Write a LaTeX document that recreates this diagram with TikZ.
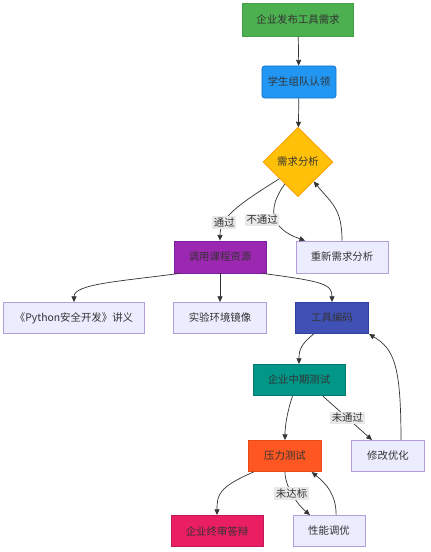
\documentclass[tikz,border=0pt]{standalone}
\usepackage{fontspec}
\setmainfont{Noto Sans CJK SC}
\usetikzlibrary{shapes.geometric,arrows.meta}

\definecolor{txt}{HTML}{333333}
\definecolor{edge}{HTML}{333333}
\definecolor{lblbg}{HTML}{E8E8E8}
\definecolor{lav}{HTML}{ECECFF}
\definecolor{lavline}{HTML}{B39DDB}
\definecolor{gfill}{HTML}{4CAF50} \definecolor{gline}{HTML}{43A047}
\definecolor{bfill}{HTML}{2196F3} \definecolor{bline}{HTML}{1976D2}
\definecolor{yfill}{HTML}{FFC107} \definecolor{yline}{HTML}{FFA000}
\definecolor{pfill}{HTML}{9C27B0} \definecolor{pline}{HTML}{7B1FA2}
\definecolor{ifill}{HTML}{3F51B5} \definecolor{iline}{HTML}{303F9F}
\definecolor{tfill}{HTML}{009688} \definecolor{tline}{HTML}{00796B}
\definecolor{ofill}{HTML}{FF5722} \definecolor{oline}{HTML}{E64A19}
\definecolor{kfill}{HTML}{E91E63} \definecolor{kline}{HTML}{C2185B}

\begin{document}
\begin{tikzpicture}[x=0.025cm, y=-0.025cm, >={Stealth[length=4pt,width=3.6pt,inset=0pt]},
    box/.style={draw, line width=0.6pt, text=txt, inner sep=0pt, minimum height=0.78cm,
        font=\fontsize{7.4}{9}\selectfont},
    plain/.style={box, fill=lav, draw=lavline},
    flow/.style={->, draw=edge, line width=0.5pt},
    lbl/.style={fill=lblbg, inner sep=1.2pt, text=txt, font=\fontsize{7.4}{9}\selectfont}]
        \useasboundingbox (0,0) rectangle (430,552);
        % main line
        \node[box, fill=gfill, draw=gline, minimum width=2.78cm, minimum height=0.83cm] (req) at (298,20) {企业发布工具需求};
        \node[box, fill=bfill, draw=bline, rounded corners=2pt, minimum width=1.85cm, minimum height=0.8cm] (team) at (299,82) {学生组队认领};
        \node[box, diamond, fill=yfill, draw=yline, minimum width=1.75cm, minimum height=1.73cm] (ana) at (298,162) {需求分析};
        \node[box, fill=pfill, draw=pline, minimum width=2.3cm, minimum height=0.8cm] (res) at (220,257) {调用课程资源};
        \node[plain, minimum width=2.3cm, minimum height=0.8cm] (redo) at (342,257) {重新需求分析};
        \node[plain, minimum width=3.53cm] (book) at (74,318) {《Python安全开发》讲义};
        \node[plain, minimum width=2.33cm] (img) at (220,318) {实验环境镜像};
        \node[box, fill=ifill, draw=iline, minimum width=1.83cm] (code) at (332,318) {工具编码};
        \node[box, fill=tfill, draw=tline, minimum width=2.3cm] (mid) at (299,380) {企业中期测试};
        \node[box, fill=ofill, draw=oline, minimum width=1.83cm] (stress) at (285,456) {压力测试};
        \node[plain, minimum width=1.83cm] (fix) at (388,456) {修改优化};
        \node[box, fill=kfill, draw=kline, minimum width=2.3cm] (final) at (217,531) {企业终审答辩};
        \node[plain, minimum width=1.8cm] (tune) at (329,531) {性能调优};

        % connectors
        \foreach \a/\b in {req/team, team/ana, res/img}
            \draw[flow] (\a) -- (\b);
        \draw[flow] (ana.-138) .. controls +(-45,28) and +(0,-22) .. (res.north) node[lbl, pos=0.7]{通过};
        \draw[flow] (ana.-121) .. controls +(-18,25) and +(-35,-12) .. (redo.156) node[lbl, pos=0.55, xshift=-0.35cm]{不通过};
        \draw[flow] (redo.north) .. controls +(0,-32) and +(18,22) .. (ana.-51);
        \draw[flow] (res.-158) .. controls +(-60,8) and +(0,-18) .. (book.north);
        \draw[flow] (res.-21) .. controls +(60,8) and +(0,-18) .. (code.north);
        \draw[flow] (code.-139) .. controls +(-12,10) and +(0,-15) .. (mid.north);
        \draw[flow] (mid.-112) .. controls +(-5,15) and +(0,-15) .. (stress.north);
        \draw[flow] (mid.-34) -- (fix.135) node[lbl, midway]{未通过};
        \draw[flow] (fix.51) .. controls +(0,-75) and +(25,15) .. (code.south east);
        \draw[flow] (stress.-153) .. controls +(-35,15) and +(0,-20) .. (final.north);
        \draw[flow] (stress.south) .. controls +(0,15) and +(-12,-10) .. (tune.140) node[lbl, pos=0.45]{未达标};
        \draw[flow] (tune.66) .. controls +(0,-20) and +(15,12) .. (stress.-31);
    \end{tikzpicture}
\end{document}
